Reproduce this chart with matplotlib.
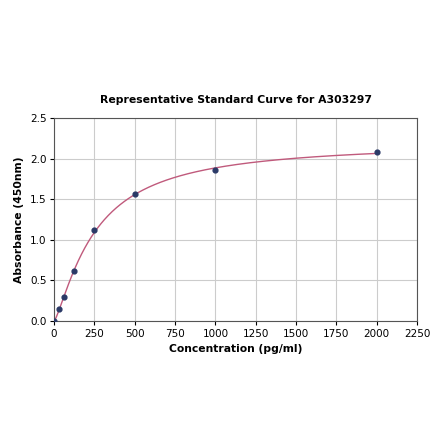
import numpy as np
from matplotlib import pyplot as plt

conc = [0, 31.25, 62.5, 125, 250, 500, 1000, 2000]
absorb = [0.0, 0.15, 0.30, 0.62, 1.12, 1.56, 1.86, 2.08]
xticks = [0, 250, 500, 750, 1000, 1250, 1500, 1750, 2000, 2250]
yticks = [0.0, 0.5, 1.0, 1.5, 2.0, 2.5]


def fourpl(x, b, c, d):
	return d - d / (1 + (x / c) ** b)


# crude grid fit of a 4PL (bottom fixed at 0)
x = np.array(conc)
y = np.array(absorb)
best = None
for b in np.arange(0.8, 1.6, 0.01):
	for c in np.arange(150, 400, 2):
		for d in np.arange(1.9, 2.6, 0.01):
			err = np.sum((fourpl(x, b, c, d) - y) ** 2)
			if best is None or err < best[0]:
				best = (err, b, c, d)
_, b, c, d = best

fig = plt.figure(figsize=(4.4, 4.41), dpi=100)
ax = fig.add_axes([0.123, 0.272, 0.825, 0.46])

xs = np.linspace(0, 2000, 400)
ax.plot(xs, fourpl(xs, b, c, d), color='#c05a7c', lw=1.0, zorder=2)
ax.scatter(conc, absorb, s=12, color='#2b3a67', zorder=3)

ax.set_xlim(0, 2250)
ax.set_ylim(0, 2.5)
ax.set_xticks(xticks)
ax.set_yticks(yticks)
ax.tick_params(labelsize=7.5, length=3, pad=2.5)
ax.grid(True, color='#cccccc', lw=0.8)
ax.set_axisbelow(True)
for s in ax.spines.values():
	s.set_color('#555555')

ax.set_title('Representative Standard Curve for A303297', fontsize=7.8, fontweight='bold', pad=11)
ax.set_xlabel('Concentration (pg/ml)', fontsize=7.75, fontweight='bold', labelpad=3.5)
ax.set_ylabel('Absorbance (450nm)', fontsize=7.75, fontweight='bold', labelpad=4)

fig.savefig('out.png')
